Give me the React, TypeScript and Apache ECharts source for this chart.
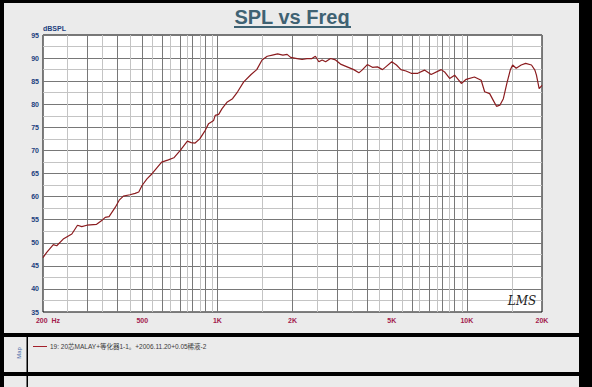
import React, { useEffect, useRef } from "react";
import * as echarts from "echarts";

const freqHz = [200, 207, 220, 227, 241, 261, 275, 286, 300, 328, 344, 355, 368, 390, 405, 420, 446, 468, 484, 499, 522, 546, 572, 598, 636, 669, 710, 758, 785, 814, 850, 894, 922, 966, 980, 1012, 1044, 1096, 1150, 1205, 1275, 1365, 1438, 1510, 1584, 1660, 1744, 1830, 1903, 1966, 2087, 2186, 2285, 2393, 2470, 2550, 2630, 2715, 2840, 2975, 3115, 3310, 3520, 3690, 3800, 3990, 4180, 4380, 4590, 4730, 5000, 5220, 5440, 5700, 5980, 6360, 6760, 7190, 7890, 8140, 8530, 8930, 9500, 9940, 10720, 11410, 11780, 12340, 12740, 13140, 13560, 14000, 14460, 14920, 15250, 15760, 16500, 17200, 18150, 18730, 19000, 19480, 20000];
const splDb = [46.8, 47.9, 49.6, 49.35, 50.8, 51.9, 53.8, 53.5, 53.8, 54.0, 54.8, 55.5, 55.65, 57.7, 59.3, 60.1, 60.4, 60.7, 61.0, 62.4, 63.85, 64.9, 66.2, 67.45, 67.95, 68.4, 70.0, 72.0, 71.7, 71.6, 72.5, 74.35, 75.8, 76.5, 77.6, 77.8, 79.05, 80.5, 81.2, 82.7, 84.85, 86.45, 87.5, 89.6, 90.4, 90.65, 90.9, 90.65, 90.8, 90.15, 89.9, 89.7, 89.9, 89.9, 90.4, 89.2, 89.6, 89.2, 89.9, 89.6, 88.7, 88.1, 87.5, 86.8, 87.4, 88.6, 88.0, 88.1, 87.5, 88.1, 89.2, 88.5, 87.5, 87.2, 86.7, 86.7, 87.4, 86.45, 87.5, 87.0, 85.6, 86.3, 84.5, 85.4, 85.9, 85.2, 82.7, 82.3, 80.9, 79.55, 79.8, 81.2, 84.5, 87.4, 88.5, 87.8, 88.5, 88.85, 88.5, 87.4, 86.3, 83.4, 84.1];

const xTickHz = [200, 500, 1000, 2000, 5000, 10000, 20000];
const xTickLabels = ["200  Hz", "500", "1K", "2K", "5K", "10K", "20K"];
const gridMajorHz = [300, 400, 500, 600, 700, 800, 900, 1000, 2000, 3000, 4000, 5000, 6000, 7000, 8000, 9000, 10000];
const gridMinorHz = [250, 350, 450, 550, 650, 750, 850, 950, 1500, 2500, 3500, 4500, 5500, 6500, 7500, 8500, 9500, 15000];
const yMin = 35;
const yMax = 95;
const yStep = 5;

const title = "SPL vs Freq";
const legendText = "19: 20芯MALAY+等化器1-1。+2006.11.20+0.05稀液-2";

const lg = (v: number) => Math.log10(v);

export default function App() {
  const ref = useRef<HTMLDivElement>(null);
  useEffect(() => {
    if (!ref.current) return;
    const chart = echarts.init(ref.current, undefined, { renderer: "svg" });
    const W = 592;
    const H = 387;
    const gridLines = [
      ...gridMinorHz.map((f) => ({ xAxis: lg(f), lineStyle: { color: "#c4c4c4", width: 1, type: "solid" } })),
      ...gridMajorHz.map((f) => ({ xAxis: lg(f), lineStyle: { color: "#787878", width: 1, type: "solid" } })),
    ];
    const curve = freqHz.map((f, i) => [lg(f), splDb[i]]);
    chart.setOption({
      animation: false,
      backgroundColor: "#ebebeb",
      grid: {
        left: 43,
        right: 50,
        top: 35,
        bottom: 75,
        show: true,
        backgroundColor: "#ffffff",
        borderColor: "#000000",
        borderWidth: 1,
        z: 0,
      },
      xAxis: {
        type: "value",
        min: lg(200),
        max: lg(20000),
        axisLine: { show: false },
        axisTick: { show: false },
        splitLine: { show: false },
        axisLabel: {
          customValues: xTickHz.map(lg),
          margin: 5,
          fontSize: 7,
          fontWeight: "bold",
          fontFamily: "Liberation Sans, Arial, sans-serif",
          color: "#a3204d",
          formatter: (v: number) => {
            let best = 0;
            xTickHz.forEach((f, i) => {
              if (Math.abs(lg(f) - v) < Math.abs(lg(xTickHz[best]) - v)) best = i;
            });
            return best === 0 ? "{m|" + xTickLabels[0] + "}" : xTickLabels[best];
          },
          rich: {
            m: {
              padding: [0, 0, 0, 10],
              fontSize: 7,
              fontWeight: "bold",
              fontFamily: "Liberation Sans, Arial, sans-serif",
              color: "#a3204d",
            },
          },
        },
      },
      yAxis: {
        type: "value",
        min: yMin,
        max: yMax,
        interval: yStep,
        name: "dBSPL",
        nameLocation: "end",
        nameGap: 2,
        nameTextStyle: {
          align: "left",
          verticalAlign: "bottom",
          fontSize: 7,
          fontWeight: "bold",
          fontFamily: "Liberation Sans, Arial, sans-serif",
          color: "#21407e",
        },
        axisLine: { show: false },
        axisTick: { show: false },
        axisLabel: {
          margin: 4,
          fontSize: 7,
          fontWeight: "bold",
          fontFamily: "Liberation Sans, Arial, sans-serif",
          color: "#21407e",
        },
        splitLine: { show: true, lineStyle: { color: "#787878", width: 1 } },
        minorTick: { show: false, splitNumber: 2 },
        minorSplitLine: { show: true, lineStyle: { color: "#c4c4c4", width: 1 } },
      },
      series: [
        {
          type: "line",
          data: curve,
          symbol: "none",
          silent: true,
          lineStyle: { opacity: 0 },
          z: 1,
          markLine: {
            silent: true,
            symbol: ["none", "none"],
            label: { show: false },
            emphasis: { disabled: true },
            data: gridLines,
          },
        },
        {
          type: "line",
          data: curve,
          symbol: "none",
          smooth: false,
          silent: true,
          z: 5,
          lineStyle: { color: "#8b1c1f", width: 1.2 },
        },
      ],
      graphic: [
        // black frame pieces
        { type: "rect", shape: { x: 0, y: 0, width: 4, height: H }, style: { fill: "#000" }, z: 100 },
        { type: "rect", shape: { x: 0, y: 0, width: W, height: 3 }, style: { fill: "#000" }, z: 100 },
        { type: "rect", shape: { x: 579, y: 0, width: 13, height: H }, style: { fill: "#000" }, z: 100 },
        { type: "rect", shape: { x: 0, y: 333, width: W, height: 4 }, style: { fill: "#000" }, z: 100 },
        { type: "rect", shape: { x: 0, y: 372, width: W, height: 4 }, style: { fill: "#000" }, z: 100 },
        { type: "rect", shape: { x: 26.5, y: 337, width: 1.5, height: 35 }, style: { fill: "#000" }, z: 100 },
        { type: "rect", shape: { x: 26.5, y: 376, width: 1.5, height: 11 }, style: { fill: "#000" }, z: 100 },
        // title
        {
          type: "text",
          x: 292,
          y: 16.5,
          style: {
            text: title,
            align: "center",
            verticalAlign: "middle",
            fontSize: 20,
            fontWeight: "bold",
            fontFamily: "Liberation Sans, Arial, sans-serif",
            fill: "#3f6273",
          },
          z: 100,
        },
        { type: "rect", shape: { x: 234, y: 26, width: 117, height: 2 }, style: { fill: "#3f6273" }, z: 100 },
        // LMS logo
        {
          type: "text",
          x: 522,
          y: 301,
          style: {
            text: "LMS",
            align: "center",
            verticalAlign: "middle",
            fontSize: 12,
            fontStyle: "italic",
            fontFamily: "DejaVu Serif, serif",
            fill: "#222",
          },
          z: 100,
        },
        // legend
        { type: "line", shape: { x1: 33, y1: 346.5, x2: 47, y2: 346.5 }, style: { stroke: "#a3202a", lineWidth: 1 }, z: 100 },
        {
          type: "text",
          x: 50,
          y: 346.5,
          style: {
            text: legendText,
            align: "left",
            verticalAlign: "middle",
            fontSize: 6.5,
            fontFamily: "Liberation Sans, Noto Sans CJK SC, sans-serif",
            fill: "#3a3a3a",
          },
          z: 100,
        },
        {
          type: "text",
          x: 18.5,
          y: 353,
          rotation: Math.PI / 2,
          style: {
            text: "Map",
            align: "center",
            verticalAlign: "middle",
            fontSize: 6,
            fontFamily: "Liberation Sans, Arial, sans-serif",
            fill: "#4a6aa8",
          },
          z: 100,
        },
      ],
    });
    return () => chart.dispose();
  }, []);
  return (
    <div
      ref={ref}
      style={{ position: "fixed", left: 0, top: 0, width: 592, height: 387 }}
    />
  );
}
